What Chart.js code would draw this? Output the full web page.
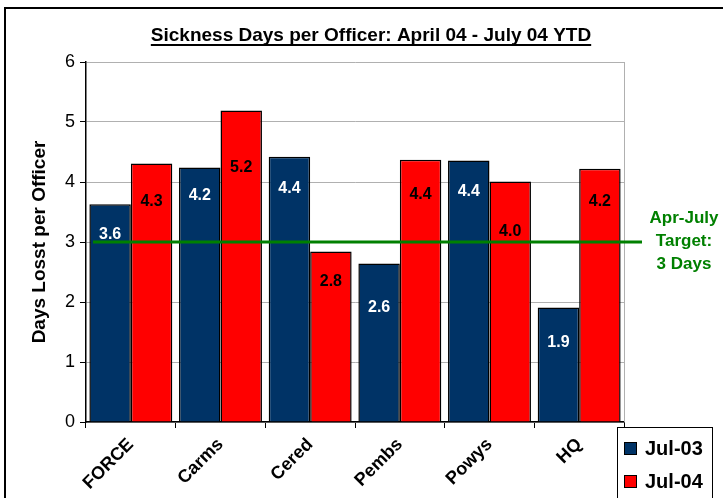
<!DOCTYPE html>
<html>
<head>
<meta charset="utf-8">
<title>Sickness Days per Officer</title>
<script src="https://cdn.jsdelivr.net/npm/chart.js@4.4.1/dist/chart.umd.min.js"></script>
<style>
    html, body { margin: 0; padding: 0; background: #fff; }
    canvas { display: block; }
</style>
</head>
<body>
<canvas id="sicknessChart" width="723" height="498"></canvas>
<script>
// Donnees
const AREAS = ['FORCE', 'Carms', 'Cered', 'Pembs', 'Powys', 'HQ'];
const JUL_03 = [3.63, 4.24, 4.42, 2.64, 4.36, 1.91];
const JUL_04 = [4.31, 5.19, 2.84, 4.37, 4.01, 4.22];
const SERIES_NAMES = ['Jul-03', 'Jul-04'];
const Y_TICKS = [0, 1, 2, 3, 4, 5, 6];
const TARGET = 3;
const TARGET_TEXT = ['Apr-July', 'Target:', '3 Days'];

const FONT = "'Liberation Sans', Arial, sans-serif";
const NAVY = '#003366';
const RED = '#ff0000';
const GREEN = '#008000';

// decalage (px) des etiquettes sous le haut de chaque barre
const LABEL_DROP = [
    [30, 28, 32, 44, 31, 35],
    [38, 57, 30, 35, 50, 33]
];

Chart.defaults.font.family = FONT;
Chart.defaults.color = '#000';

/**
 * Cadre, fond et titre souligne
 */
const framePlugin = {
    id: 'frame',
    beforeDraw(chart) {
        const ctx = chart.ctx;
        ctx.save();
        ctx.fillStyle = '#fff';
        ctx.fillRect(0, 0, chart.width, chart.height);
        ctx.strokeStyle = '#000';
        ctx.lineWidth = 2;
        ctx.strokeRect(5, 8, chart.width + 20, chart.height + 20);
        ctx.restore();
    },
    beforeDatasetsDraw(chart) {
        const { ctx, chartArea } = chart;
        ctx.save();
        ctx.strokeStyle = '#b0b0b0';
        ctx.lineWidth = 1;
        ctx.beginPath();
        ctx.moveTo(chartArea.right + 0.5, chartArea.top);
        ctx.lineTo(chartArea.right + 0.5, chartArea.bottom);
        ctx.stroke();
        ctx.restore();
    },
    afterDraw(chart) {
        const ctx = chart.ctx;
        const title = 'Sickness Days per Officer: April 04 - July 04 YTD';
        ctx.save();
        ctx.font = 'bold 19px ' + FONT;
        ctx.fillStyle = '#000';
        ctx.textAlign = 'center';
        ctx.textBaseline = 'alphabetic';
        const cx = 371;
        ctx.fillText(title, cx, 41);
        const w = ctx.measureText(title).width;
        ctx.fillRect(cx - w / 2, 44, w, 2);
        ctx.restore();
    }
};

/**
 * Ligne d'objectif et son texte
 */
const targetPlugin = {
    id: 'target',
    afterDatasetsDraw(chart) {
        const { ctx, chartArea, scales } = chart;
        const y = scales.y.getPixelForValue(TARGET);
        ctx.save();
        ctx.strokeStyle = GREEN;
        ctx.lineWidth = 3;
        ctx.beginPath();
        ctx.moveTo(chartArea.left + 7, y);
        ctx.lineTo(chartArea.right + 18, y);
        ctx.stroke();

        ctx.fillStyle = GREEN;
        ctx.font = 'bold 17px ' + FONT;
        ctx.textAlign = 'center';
        ctx.textBaseline = 'middle';
        TARGET_TEXT.forEach((line, i) => {
            ctx.fillText(line, 684, y - 24 + i * 23);
        });
        ctx.restore();
    }
};

/**
 * Etiquettes de valeurs dans les barres
 */
const valueLabelPlugin = {
    id: 'valueLabels',
    afterDatasetsDraw(chart) {
        const ctx = chart.ctx;
        ctx.save();
        ctx.font = 'bold 16px ' + FONT;
        ctx.textAlign = 'center';
        ctx.textBaseline = 'middle';
        chart.data.datasets.forEach((ds, di) => {
            const meta = chart.getDatasetMeta(di);
            ctx.fillStyle = di === 0 ? '#fff' : '#000';
            meta.data.forEach((bar, i) => {
                ctx.fillText(ds.data[i].toFixed(1), bar.x, bar.y + LABEL_DROP[di][i]);
            });
        });
        ctx.restore();
    }
};

/**
 * Legende dans le coin inferieur droit
 */
const legendPlugin = {
    id: 'cornerLegend',
    afterDraw(chart) {
        const ctx = chart.ctx;
        const box = { x: 617, y: 427, w: 95, h: 75 };
        ctx.save();
        ctx.fillStyle = '#fff';
        ctx.fillRect(box.x, box.y, box.w, box.h);
        ctx.strokeStyle = '#000';
        ctx.lineWidth = 1;
        ctx.strokeRect(box.x + 0.5, box.y + 0.5, box.w, box.h);
        ctx.font = 'bold 20px ' + FONT;
        ctx.textBaseline = 'middle';
        ctx.textAlign = 'left';
        chart.data.datasets.forEach((ds, i) => {
            const cy = 448 + i * 33;
            ctx.fillStyle = ds.backgroundColor;
            ctx.fillRect(624, cy - 6, 12, 12);
            ctx.strokeStyle = '#000';
            ctx.strokeRect(624.5, cy - 5.5, 12, 12);
            ctx.fillStyle = '#000';
            ctx.fillText(ds.label, 645, cy + 1);
        });
        ctx.restore();
    }
};

new Chart(document.getElementById('sicknessChart'), {
    type: 'bar',
    data: {
        labels: AREAS,
        datasets: [
            {
                label: SERIES_NAMES[0],
                data: JUL_03,
                backgroundColor: NAVY,
                borderColor: '#000',
                borderWidth: 1.5
            },
            {
                label: SERIES_NAMES[1],
                data: JUL_04,
                backgroundColor: RED,
                borderColor: '#000',
                borderWidth: 1.5
            }
        ]
    },
    options: {
        responsive: false,
        animation: false,
        devicePixelRatio: 1,
        categoryPercentage: 0.925,
        barPercentage: 1.0,
        layout: {
            padding: { left: 0, top: 62, right: 99, bottom: 0 }
        },
        plugins: {
            legend: { display: false },
            title: { display: false },
            tooltip: { enabled: false }
        },
        scales: {
            x: {
                afterFit(scale) { scale.height = 76; },
                grid: {
                    offset: true,
                    drawOnChartArea: false,
                    color: '#000',
                    tickLength: 6
                },
                border: { color: '#000', width: 1.5 },
                ticks: {
                    autoSkip: false,
                    minRotation: 45,
                    maxRotation: 45,
                    padding: 6,
                    color: '#000',
                    font: { size: 18, weight: 'bold' }
                }
            },
            y: {
                min: Y_TICKS[0],
                max: Y_TICKS[Y_TICKS.length - 1],
                afterFit(scale) { scale.width = 86; },
                afterBuildTicks(scale) {
                    scale.ticks = Y_TICKS.map(v => ({ value: v }));
                },
                grid: {
                    color: '#b0b0b0',
                    tickColor: '#000',
                    tickLength: 6
                },
                border: { color: '#000', width: 1.5 },
                ticks: {
                    padding: 5,
                    color: '#000',
                    font: { size: 18 }
                },
                title: {
                    display: true,
                    text: 'Days Losst per Officer',
                    color: '#000',
                    font: { size: 19, weight: 'bold' },
                    padding: { top: 28, bottom: 0 }
                }
            }
        }
    },
    plugins: [framePlugin, valueLabelPlugin, targetPlugin, legendPlugin]
});
</script>
</body>
</html>
